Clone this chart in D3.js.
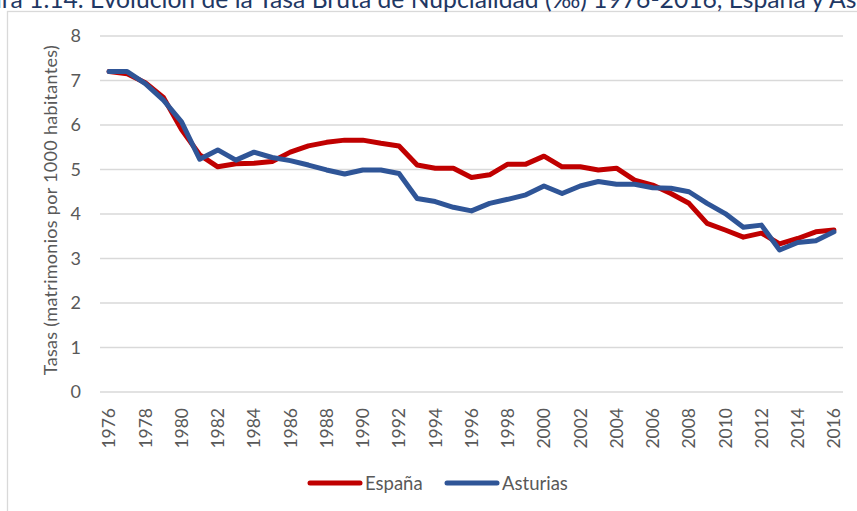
<!DOCTYPE html>
<html lang="es">
<head>
    <meta charset="UTF-8">
    <title>Tasa Bruta de Nupcialidad</title>
    <script src="https://d3js.org/d3.v7.min.js"></script>
    <style>
        body { margin: 0; background: #ffffff; }
        svg { font-family: Lato, "Open Sans", sans-serif; }
        .tick-label { fill: #595959; font-size: 17.5px; }
        .grid line { stroke: #d9d9d9; stroke-width: 1.3; }
    </style>
</head>
<body>
<svg id="chart" width="857" height="511"></svg>
<script>
    // Datos (tasa por 1000 habitantes)
    const years = d3.range(1976, 2017);
    const espana = [
        7.20, 7.15, 6.95, 6.62, 5.90, 5.33, 5.06, 5.13, 5.14, 5.18,
        5.39, 5.53, 5.61, 5.66, 5.66, 5.59, 5.53, 5.10, 5.03, 5.03,
        4.82, 4.88, 5.12, 5.12, 5.30, 5.06, 5.06, 4.99, 5.03, 4.76,
        4.65, 4.46, 4.24, 3.79, 3.64, 3.48, 3.57, 3.33, 3.45, 3.60,
        3.64
    ];
    const asturias = [
        7.20, 7.20, 6.93, 6.56, 6.07, 5.23, 5.44, 5.21, 5.39, 5.27,
        5.20, 5.10, 4.99, 4.90, 4.99, 4.99, 4.91, 4.35, 4.28, 4.15,
        4.07, 4.24, 4.33, 4.43, 4.63, 4.46, 4.63, 4.73, 4.67, 4.67,
        4.59, 4.58, 4.50, 4.24, 4.01, 3.70, 3.75, 3.19, 3.36, 3.40,
        3.60
    ];
    const yTicks = [0, 1, 2, 3, 4, 5, 6, 7, 8];
    const xTickYears = years.filter(y => (y - 1976) % 2 === 0);
    const seriesNames = ["España", "Asturias"];
    const colors = ["#c00000", "#2f5597"];

    const svg = d3.select("#chart");

    // marco del grafico
    svg.append("rect")
        .attr("x", 7.5).attr("y", 11.5)
        .attr("width", 900).attr("height", 560)
        .attr("fill", "none")
        .attr("stroke", "#d9d9d9")
        .attr("stroke-width", 1.3);

    // titulo (cortado por arriba en la imagen original)
    const prefix = "Figura 1.14. ";
    const visible = "Evolución de la Tasa Bruta de Nupcialidad (‰) 1976-2016, España y As";
    function measure(str, size) {
        const t = svg.append("text").style("font-size", size + "px")
            .style("font-family", "Lato, sans-serif").text(str);
        const w = t.node().getComputedTextLength();
        t.remove();
        return w;
    }
    // ajustar tamano para que "Evolución ... As" ocupe de x=90 al borde
    const titleSize = 20 * 767 / measure(visible, 20);
    const prefixW = measure(prefix + "E", titleSize) - measure("E", titleSize);
    svg.append("text")
        .attr("x", 90 - prefixW)
        .attr("y", 8)
        .attr("fill", "#1f3864")
        .style("font-family", "Lato, sans-serif")
        .style("font-size", titleSize + "px")
        .text(prefix + "Evolución de la Tasa Bruta de Nupcialidad (‰) 1976-2016, España y Asturias");

    const x = d3.scalePoint()
        .domain(years)
        .range([100, 843])
        .padding(0.5);

    const y = d3.scaleLinear()
        .domain([0, 8])
        .range([392, 36]);

    // lineas de cuadricula
    svg.append("g")
        .attr("class", "grid")
        .selectAll("line")
        .data(yTicks)
        .enter().append("line")
        .attr("x1", 100).attr("x2", 843)
        .attr("y1", d => y(d)).attr("y2", d => y(d));

    // eje Y
    svg.append("g")
        .selectAll("text")
        .data(yTicks)
        .enter().append("text")
        .attr("class", "tick-label")
        .attr("x", 81)
        .attr("y", d => y(d))
        .attr("dy", "0.36em")
        .attr("text-anchor", "end")
        .style("font-size", "18px")
        .text(d => d);

    svg.append("text")
        .attr("class", "tick-label")
        .attr("transform", "translate(57,210) rotate(-90)")
        .attr("text-anchor", "middle")
        .style("font-size", "18px")
        .style("letter-spacing", "0.3px")
        .text("Tasas (matrimonios por 1000 habitantes)");

    // eje X (etiquetas giradas)
    svg.append("g")
        .selectAll("text")
        .data(xTickYears)
        .enter().append("text")
        .attr("class", "tick-label")
        .attr("transform", d => `translate(${x(d)},408) rotate(-90)`)
        .attr("text-anchor", "end")
        .attr("dy", "0.36em")
        .text(d => d);

    // series
    const line = d3.line()
        .x((d, i) => x(years[i]))
        .y(d => y(d));

    [espana, asturias].forEach((s, k) => {
        svg.append("path")
            .datum(s)
            .attr("d", line)
            .attr("fill", "none")
            .attr("stroke", colors[k])
            .attr("stroke-width", 5)
            .attr("stroke-linejoin", "round")
            .attr("stroke-linecap", "round");
    });

    // leyenda
    const legendPos = [310, 447];
    seriesNames.forEach((name, k) => {
        svg.append("line")
            .attr("x1", legendPos[k]).attr("x2", legendPos[k] + 50)
            .attr("y1", 483).attr("y2", 483)
            .attr("stroke", colors[k])
            .attr("stroke-width", 5)
            .attr("stroke-linecap", "round");
        svg.append("text")
            .attr("class", "tick-label")
            .attr("x", legendPos[k] + 55)
            .attr("y", 483)
            .attr("dy", "0.36em")
            .style("font-size", "18.5px")
            .text(name);
    });
</script>
</body>
</html>
